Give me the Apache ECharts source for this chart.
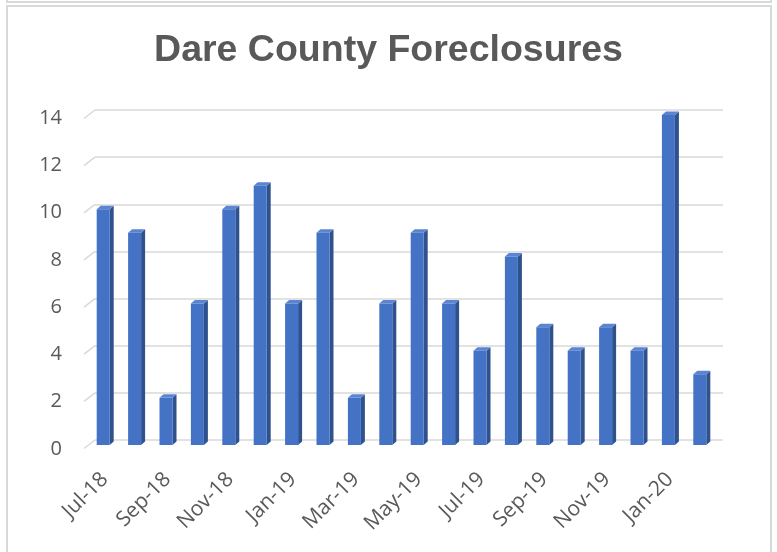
<!DOCTYPE html>
<html>
<head>
<meta charset="utf-8">
<script src="https://cdn.jsdelivr.net/npm/echarts@6/dist/echarts.min.js"></script>
<style>
html,body{margin:0;padding:0;background:#fff;}
#c{width:777px;height:552px;}
</style>
</head>
<body>
<div id="c"></div>
<script>
const titleText = 'Dare County Foreclosures';
const categories = ['Jul-18','Aug-18','Sep-18','Oct-18','Nov-18','Dec-18','Jan-19','Feb-19','Mar-19','Apr-19','May-19','Jun-19','Jul-19','Aug-19','Sep-19','Oct-19','Nov-19','Dec-19','Jan-20','Feb-20'];
const values = [10,9,2,6,10,11,6,9,2,6,9,6,4,8,5,4,5,4,14,3];
const yTicks = [0,2,4,6,8,10,12,14];

const chart = echarts.init(document.getElementById('c'), null, {renderer:'canvas'});
const FRONT = '#4472C4', SIDE = '#2F528F', TOP = '#5B85D1';
const grey = '#595959';

const option = {
  animation:false,
  backgroundColor:'#fff',
  title:{text:titleText,left:'center',top:27,
    textStyle:{fontFamily:'Liberation Sans, Arial, sans-serif',fontSize:37.5,fontWeight:'bold',color:grey}},
  grid:[
    {left:95,right:54,top:110,bottom:112},   // back wall gridlines
    {left:89,right:60,top:115,bottom:107},   // bars
    {left:83,right:60,top:118,bottom:103}    // y labels (front plane)
  ],
  xAxis:[
    {gridIndex:0,type:'category',data:categories,show:false},
    {gridIndex:1,type:'category',data:categories,
      axisLine:{show:false},axisTick:{show:false},
      axisLabel:{interval:1,rotate:45,margin:31,fontFamily:'Open Sans, sans-serif',fontSize:21,color:grey}},
    {gridIndex:2,type:'category',data:categories,show:false}
  ],
  yAxis:[
    {gridIndex:0,type:'value',min:0,max:14,interval:2,
      axisLabel:{show:false},axisLine:{show:false},axisTick:{show:false},
      splitLine:{lineStyle:{color:'#D9D9D9',width:1.5}}},
    {gridIndex:1,type:'value',min:0,max:14,interval:2,show:false,splitLine:{show:false}},
    {gridIndex:2,type:'value',min:0,max:14,interval:2,
      axisLine:{show:false},axisTick:{show:false},splitLine:{show:false},
      axisLabel:{margin:21,fontFamily:'Open Sans, sans-serif',fontSize:20,color:grey}}
  ],
  series:[
    {
      type:'custom',xAxisIndex:0,yAxisIndex:0,silent:true,
      data:yTicks.map(v=>[0,v]),
      renderItem:function(params,api){
        const p = api.coord([0,api.value(1)]);
        const x0 = params.coordSys.x;
        return {type:'line',shape:{x1:x0-11,y1:p[1]+8.5,x2:x0,y2:p[1]},
          style:{stroke:'#D9D9D9',lineWidth:1.5}};
      }
    },
    {
      type:'custom',xAxisIndex:1,yAxisIndex:1,silent:true,
      data:values.map((v,i)=>[i,v]),
      renderItem:function(params,api){
        const i = api.value(0), v = api.value(1);
        const top = api.coord([i,v]);
        const base = api.coord([i,0]);
        const w = 13, dx = 4, dy = 3.5;
        const xl = top[0]-8, xr = xl+w;
        return {type:'group',children:[
          {type:'polygon',shape:{points:[[xr,base[1]],[xr,top[1]],[xr+dx,top[1]-dy],[xr+dx,base[1]-dy]]},style:{fill:SIDE}},
          {type:'polygon',shape:{points:[[xl,top[1]],[xr,top[1]],[xr+dx,top[1]-dy],[xl+dx,top[1]-dy]]},style:{fill:TOP}},
          {type:'rect',shape:{x:xl,y:top[1],width:w,height:base[1]-top[1]},style:{fill:FRONT}}
        ]};
      }
    }
  ],
  graphic:[
    {type:'polyline',shape:{points:[[7,0],[7,2],[771,2],[771,0]]},style:{stroke:'#D9D9D9',lineWidth:2,fill:null},silent:true},
    {type:'polyline',shape:{points:[[7,560],[7,6],[771,6],[771,560]]},style:{stroke:'#D9D9D9',lineWidth:2,fill:null},silent:true}
  ]
};
chart.setOption(option);
</script>
</body>
</html>
